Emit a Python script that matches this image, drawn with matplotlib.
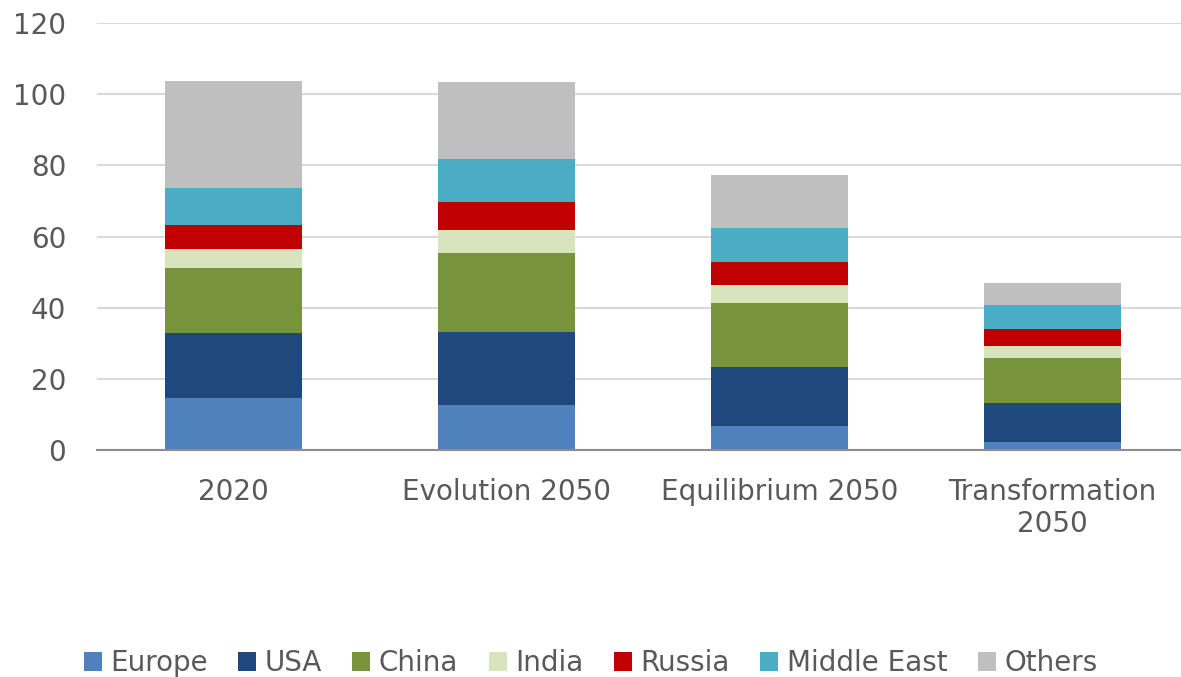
import numpy as np
import matplotlib.pyplot as plt

categories = ['2020', 'Evolution 2050', 'Equilibrium 2050', 'Transformation\n2050']
regions = ['Europe', 'USA', 'China', 'India', 'Russia', 'Middle East', 'Others']

europe = [14.6, 12.8, 6.8, 2.3]
usa = [18.3, 20.3, 16.5, 11.1]
china = [18.4, 22.4, 18.0, 12.4]
india = [5.2, 6.3, 5.1, 3.6]
russia = [6.9, 7.9, 6.4, 4.7]
middle_east = [10.2, 12.0, 9.5, 6.7]
others = [30.1, 21.8, 15.1, 6.3]

colors = ['#4F81BD', '#1F497D', '#77933C', '#D7E4BD', '#C00000', '#4BACC6', '#BFBFBF']

plt.rcParams['font.family'] = ['DejaVu Sans']

fig = plt.figure(figsize=(11.81, 6.77), dpi=100)
ax = fig.add_axes([0.082, 0.335, 0.918, 0.631])

x = np.arange(len(categories))
bottom = np.zeros(len(categories))
for name, vals, c in zip(regions, [europe, usa, china, india, russia, middle_east, others], colors):
    ax.bar(x, vals, 0.5, bottom=bottom, color=c, label=name, zorder=3)
    bottom += np.array(vals)

ax.set_ylim(0, 120)
ax.set_xlim(-0.5, 3.47)
ax.set_yticks(range(0, 121, 20))
ax.set_xticks(x)
ax.set_xticklabels(categories)
ax.grid(axis='y', color='#D9D9D9', linewidth=1.5, zorder=0)
for s in ['top', 'right', 'left']:
    ax.spines[s].set_visible(False)
ax.spines['bottom'].set_color('#8C8C8C')
ax.spines['bottom'].set_linewidth(1.5)
ax.spines['bottom'].set_zorder(4)
ax.tick_params(axis='both', length=0, labelsize=20, colors='#595959')
ax.tick_params(axis='y', pad=22)
ax.tick_params(axis='x', pad=20)

fig.legend(loc='lower center', bbox_to_anchor=(0.5, -0.037), ncol=7, frameon=False,
           fontsize=20, handlelength=0.65, handleheight=0.65, handletextpad=0.3,
           columnspacing=1.1, labelcolor='#595959')

fig.savefig('out.png', dpi=100)
